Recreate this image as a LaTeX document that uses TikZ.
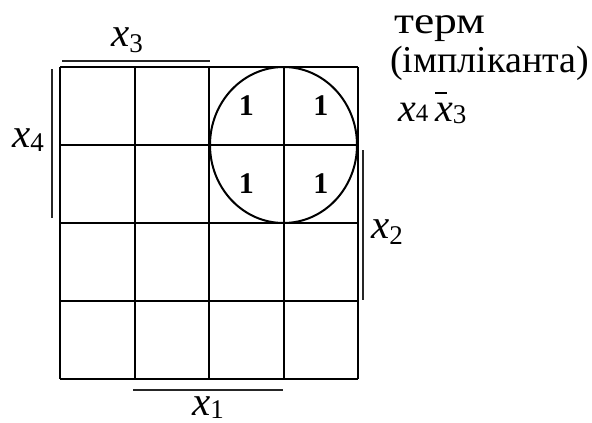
\documentclass[tikz,border=0pt]{standalone}
\usepackage{fontspec}
\setmainfont{Liberation Serif}
\usetikzlibrary{positioning}

\newcommand{\varx}[2]{\textit{x}\raisebox{-#2}{\fontsize{27}{27}\selectfont #1}}
\newcommand{\barx}{\makebox[0pt][l]{\raisebox{0.68em}{\rule{0.3em}{1.6pt}}}\textit{x}}

\begin{document}
\begin{tikzpicture}[
  x=1pt, y=-1pt,
  gridline/.style={line width=2pt, draw=black},
  bar/.style={line width=2.2pt, draw=black!85},
  varlabel/.style={font=\fontsize{41}{41}\selectfont, inner sep=0pt, anchor=base west},
  cellone/.style={font=\fontsize{30}{30}\selectfont\bfseries, inner sep=0pt},
  caption/.style={font=\fontsize{38}{38}\selectfont, inner sep=0pt, anchor=base west}
]
  \useasboundingbox (0,0) rectangle (592,423);

  \foreach \i in {0,...,4} {
    \draw[gridline] ({60+74.5*\i},67) -- ({60+74.5*\i},379);
    \draw[gridline] (60,{67+78*\i}) -- (358,{67+78*\i});
  }
  \coordinate (centre) at (283.5,145);
  \draw[line width=2pt] (centre) ellipse [x radius=73.5pt, y radius=78pt];

  \node[cellone] (one-a) at (246.25,106) {1};
  \node[cellone] (one-b) at (320.75,106) {1};
  \node[cellone] (one-c) at (246.25,184) {1};
  \node[cellone] (one-d) at (320.75,184) {1};

  \draw[bar] (62,61) -- (210,61);
  \draw[bar] (52,69) -- (52,218);
  \draw[bar] (363,150) -- (363,300);
  \draw[bar] (133,390) -- (283,390);

  \node[varlabel] (lbl-x3) at (111,46) {\varx{3}{6pt}};
  \node[varlabel] (lbl-x4) at (12,147) {\varx{4}{4pt}};
  \node[varlabel] (lbl-x2) at (371,238) {\varx{2}{6pt}};
  \node[varlabel] (lbl-x1) at (192,415) {\varx{1}{3pt}};

  \node[caption] (term) at (394,33) {\scalebox{1.2}[1]{терм}};
  \node[caption] (implicant) at (390,72) {(імпліканта)};
  \node[caption, font=\fontsize{40}{40}\selectfont] (formula) at (398,121)
    {\textit{x}{\fontsize{25}{25}\selectfont 4}\,\barx\raisebox{-2pt}{\fontsize{27}{27}\selectfont 3}};
\end{tikzpicture}
\end{document}
